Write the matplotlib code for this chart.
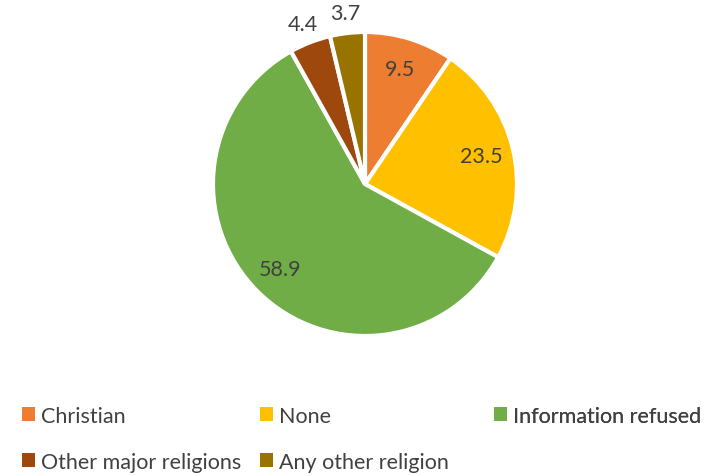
import matplotlib
matplotlib.use("Agg")
import matplotlib.pyplot as plt
import numpy as np

categories = ["Christian", "None", "Information refused",
              "Other major religions", "Any other religion"]
values = [9.5, 23.5, 58.9, 4.4, 3.7]
colors = ["#ED7D31", "#FFC000", "#70AD47", "#9E480E", "#997300"]

plt.rcParams["font.family"] = ["Lato", "DejaVu Sans"]
text_color = "#404040"

W, H = 713, 477
fig = plt.figure(figsize=(W / 100, H / 100), dpi=100)
ax = fig.add_axes([0, 0, 1, 1])

cx, cy, r = 365, H - 185, 152
wedges, _ = ax.pie(values, colors=colors, startangle=90, counterclock=False,
                   center=(cx, cy), radius=r, frame=True,
                   wedgeprops=dict(edgecolor="white", linewidth=3))
ax.set_xlim(0, W)
ax.set_ylim(0, H)
ax.set_aspect("equal")
ax.axis("off")

# value labels: inside for large slices, outside for thin ones
for w, v in zip(wedges, values):
    mid = np.deg2rad((w.theta1 + w.theta2) / 2)
    d = 0.79 if v > 6 else 1.13
    ax.text(cx + d * r * np.cos(mid), cy + d * r * np.sin(mid), f"{v}",
            ha="center", va="center", fontsize=15.5, color=text_color)

# legend laid out in three fixed-width columns
columns = [[0, 3], [1, 4], [2]]
col_x = [11, 249, 483]
for idx, x0 in zip(columns, col_x):
    leg = ax.legend([wedges[i] for i in idx], [categories[i] for i in idx],
                    loc="upper left", bbox_to_anchor=(x0 / W, 1 - 396 / H),
                    bbox_transform=fig.transFigure, frameon=False,
                    fontsize=15.5, handlelength=0.6, handleheight=0.6,
                    handletextpad=0.3, labelspacing=1.2, borderpad=0,
                    labelcolor=text_color)
    for h in leg.legend_handles:
        h.set_edgecolor("none")
    ax.add_artist(leg)

fig.savefig("out.png", dpi=100)
